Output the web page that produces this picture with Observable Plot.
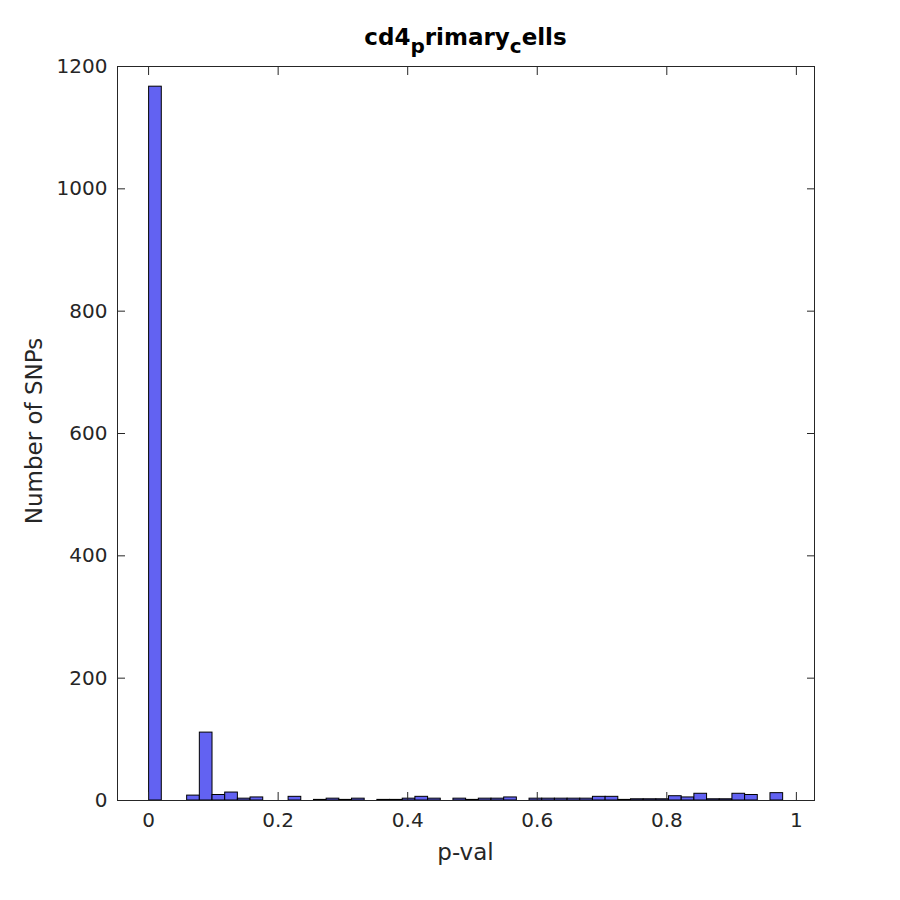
<!DOCTYPE html>
<html>
<head>
<meta charset="utf-8">
<script src="https://cdn.jsdelivr.net/npm/d3@7"></script>
<script src="https://cdn.jsdelivr.net/npm/@observablehq/plot@0.6"></script>
<style>
  html, body { margin: 0; padding: 0; background: #fff; }
  #chart { width: 900px; height: 900px; }
</style>
</head>
<body>
<div id="chart"></div>
<script>
// Histogram of p-values: 50 bins
const binStart = 0.0008;
const binWidth = 0.019576;
const counts = [
  1167, 0, 0, 8, 111, 9, 13, 3, 5, 0,
  0, 6, 0, 1, 3, 1, 3, 0, 1, 1,
  3, 6, 3, 0, 3, 1, 3, 3, 5, 0,
  3, 3, 3, 3, 3, 6, 6, 1, 2, 2,
  2, 7, 5, 11, 2, 2, 11, 9, 0, 12
];
const xTicks = [0, 0.2, 0.4, 0.6, 0.8, 1];
const xTickLabels = ["0", "0.2", "0.4", "0.6", "0.8", "1"];
const yTicks = [0, 200, 400, 600, 800, 1000, 1200];
const yTickLabels = ["0", "200", "400", "600", "800", "1000", "1200"];
const titleParts = [["cd4", false], ["p", true], ["rimary", false], ["c", true], ["ells", false]];
const xLabel = "p-val";
const yLabel = "Number of SNPs";

const bins = counts.map((c, i) => ({
  x1: binStart + i * binWidth,
  x2: binStart + (i + 1) * binWidth,
  count: c
}));

const font = "DejaVu Sans, sans-serif";
const axisColor = "#262626";

const plot = Plot.plot({
  width: 900,
  height: 900,
  marginLeft: 117,
  marginRight: 86,
  marginTop: 66,
  marginBottom: 100,
  style: { fontFamily: font, fontSize: "20px", color: axisColor, background: "#fff" },
  x: { domain: [-0.048, 1.028], label: null },
  y: { domain: [0, 1200], label: null },
  marks: [
    Plot.rectY(bins, {
      x1: "x1", x2: "x2", y: "count",
      fill: "#6262f2", stroke: "#000", strokeWidth: 1
    }),
    Plot.frame({ stroke: axisColor, strokeWidth: 1 }),
    Plot.axisX(xTicks, {
      anchor: "bottom", tickSize: -8, tickPadding: 20,
      tickFormat: (d, i) => xTickLabels[i], label: null, stroke: axisColor, fill: axisColor
    }),
    Plot.axisX(xTicks, {
      anchor: "top", tickSize: -8, fill: "none", label: null, stroke: axisColor
    }),
    Plot.axisY(yTicks, {
      anchor: "left", tickSize: -8, tickPadding: 18,
      tickFormat: (d, i) => yTickLabels[i], label: null, stroke: axisColor, fill: axisColor
    }),
    Plot.axisY(yTicks, {
      anchor: "right", tickSize: -8, fill: "none", label: null, stroke: axisColor
    })
  ]
});

const svg = d3.select(plot);
// axis labels
svg.append("text")
  .attr("x", 465.5).attr("y", 860)
  .attr("text-anchor", "middle")
  .attr("font-family", font).attr("font-size", 23).attr("fill", axisColor)
  .text(xLabel);
svg.append("text")
  .attr("transform", "translate(42,431) rotate(-90)")
  .attr("text-anchor", "middle")
  .attr("font-family", font).attr("font-size", 23).attr("fill", axisColor)
  .text(yLabel);
// title with subscripts
const t = svg.append("text")
  .attr("x", 465.5).attr("y", 45)
  .attr("text-anchor", "middle")
  .attr("font-family", font).attr("font-size", 23).attr("font-weight", "bold").attr("fill", "#000");
titleParts.forEach(([s, sub], i) => {
  const ts = t.append("tspan").text(s);
  if (sub) ts.attr("font-size", 20).attr("dy", 8);
  else if (i > 0) ts.attr("dy", -8);
});

document.getElementById("chart").appendChild(plot);
</script>
</body>
</html>
